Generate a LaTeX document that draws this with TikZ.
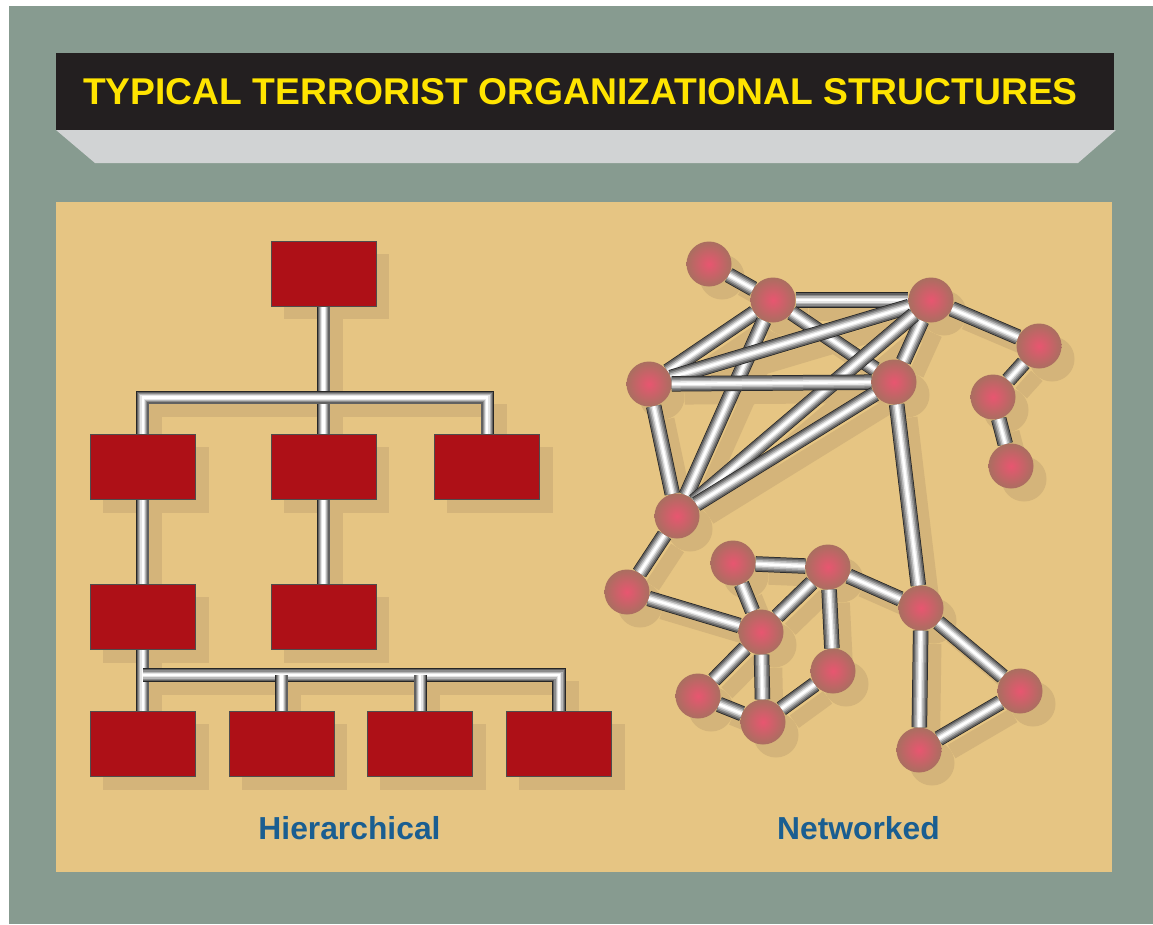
\documentclass[tikz,border=0pt]{standalone}
\usepackage{fontspec}
\setmainfont{Liberation Sans}
\usepackage{tikz}
\usetikzlibrary{positioning}
\definecolor{bggreen}{RGB}{135,155,144}
\definecolor{paneltan}{RGB}{230,197,131}
\definecolor{shadowtan}{RGB}{212,180,122}
\definecolor{boxred}{RGB}{174,16,23}
\definecolor{titleblack}{RGB}{35,31,32}
\definecolor{titleyellow}{RGB}{255,228,0}
\definecolor{ledgegrey}{RGB}{209,211,212}
\definecolor{labelblue}{RGB}{26,94,145}
\definecolor{ballpink}{RGB}{232,86,112}
\definecolor{ballrim}{RGB}{170,110,96}
\pgfdeclarelayer{back}
\pgfdeclarelayer{shade}
\pgfdeclarelayer{pipes}
\pgfsetlayers{back,shade,pipes,main}
% lists used twice (shadows and pipes)
\newcommand\treeboxes{top,a1,a2,a3,b1,b2,c1,c2,c3,c4}
\newcommand\cells{A,B,C,D,E,F,G,H,I,J,K,L,M,N,O,P,Q,R,S}
\newcommand\links{A/B,B/C,B/E,B/F,B/I,C/E,C/F,C/I,C/D,E/F,E/I,F/I,F/M,D/G,G/H,I/J,J/N,K/L,K/N,L/N,L/O,L/M,N/P,N/Q,P/Q,Q/O,M/S,M/R,R/S}
\newcommand\treelinks[1]{%
  \draw[#1] (top) -- (a2);
  \draw[#1] (a1) -- (a1 |- bar1) -- (a3 |- bar1) -- (a3);
  \draw[#1] (a1) -- (b1);
  \draw[#1] (a2) -- (b2);
  \draw[#1] (b1) -- (c1);
  \draw[#1] (b1 |- bar2) -- (c4 |- bar2) -- (c4);
  \draw[#1] (c2 |- bar2) -- (c2);
  \draw[#1] (c3 |- bar2) -- (c3);}

\begin{document}
\begin{tikzpicture}[x=1pt, y=-1pt,
    unit/.style={rectangle, draw=titleblack!80, line width=0.8pt, fill=boxred, minimum width=105pt, minimum height=65pt, inner sep=0pt},
    cell/.style={circle, minimum size=45pt, inner sep=0pt, shading=radial, inner color=ballpink, outer color=ballrim},
    tpipe/.style={line width=13.5pt, draw=black!85, line join=miter,
      postaction={draw=black!62, line width=12pt},
      postaction={draw=black!45, line width=9.5pt},
      postaction={draw=black!28, line width=7pt},
      postaction={draw=black!10, line width=4.5pt},
      postaction={draw=white, line width=2.2pt}},
    npipe/.style={line width=15.5pt, draw=black!85,
      postaction={draw=black!62, line width=14pt},
      postaction={draw=black!45, line width=11pt},
      postaction={draw=black!28, line width=8pt},
      postaction={draw=black!10, line width=5pt},
      postaction={draw=white, line width=2.4pt}},
    tshadow/.style={line width=13.5pt, draw=shadowtan, line join=miter},
    nshadow/.style={line width=15.5pt, draw=shadowtan},
    caption/.style={anchor=base, font=\bfseries\fontsize{31.8}{34}\selectfont, text=labelblue}]

  % backgrounds
  \begin{pgfonlayer}{back}
    \fill[white] (0,0) rectangle (1153,924);
    \fill[bggreen] (9,6) rectangle (1153,924);
    \fill[ledgegrey] (56,130) -- (1116,130) -- (1078,163) -- (95,163) -- cycle;
    \fill[titleblack] (56,53) rectangle (1114,130);
    \fill[paneltan] (56,202) rectangle (1112,872);
  \end{pgfonlayer}
  \node (title) [anchor=base, text=titleyellow, font=\bfseries\fontsize{37.25}{40}\selectfont] at (580.5,104) {TYPICAL TERRORIST ORGANIZATIONAL STRUCTURES};

  % hierarchical
  \node (top) [unit] at (323.5,273.5) {};
  \node (a2) [unit, below=128pt of top] {};
  \node (a1) [unit, left=75pt of a2] {};
  \node (a3) [unit, right=58pt of a2] {};
  \node (b1) [unit, below=84pt of a1] {};
  \node (b2) [unit, below=84pt of a2] {};
  \node (c1) [unit, below=61pt of b1] {};
  \node (c2) [unit, right=33pt of c1] {};
  \node (c3) [unit, right=33pt of c2] {};
  \node (c4) [unit, right=33pt of c3] {};
  \coordinate (bar1) at (0,397.5);
  \coordinate (bar2) at (0,675);

  % networked
  \node (A) [cell] at (709,264) {};
  \node (B) [cell] at (773,300) {};
  \node (C) [cell] at (931,300) {};
  \node (D) [cell] at (1039,346) {};
  \node (E) [cell] at (649,384) {};
  \node (F) [cell] at (894,382) {};
  \node (G) [cell] at (993,397) {};
  \node (H) [cell] at (1011,466) {};
  \node (I) [cell] at (677,516) {};
  \node (J) [cell] at (627,592) {};
  \node (K) [cell] at (733,563) {};
  \node (L) [cell] at (828,567) {};
  \node (M) [cell] at (921,608) {};
  \node (N) [cell] at (761,632) {};
  \node (O) [cell] at (833,671) {};
  \node (P) [cell] at (698,696) {};
  \node (Q) [cell] at (763,722) {};
  \node (R) [cell] at (1020,691) {};
  \node (S) [cell] at (919,750) {};

  % shadows
  \begin{pgfonlayer}{shade}
    \begin{scope}[transform canvas={shift={(13pt,-13pt)}}]
      \foreach \n in \treeboxes
        \fill[shadowtan] (\n.south west) rectangle (\n.north east);
      \treelinks{tshadow}
      \foreach \a/\b in \links
        \draw[nshadow] (\a) -- (\b);
      \foreach \n in \cells
        \fill[shadowtan] (\n) circle (22.5pt);
    \end{scope}
  \end{pgfonlayer}

  % pipes
  \begin{pgfonlayer}{pipes}
    \treelinks{tpipe}
    \foreach \a/\b in \links
      \draw[npipe] (\a) -- (\b);
  \end{pgfonlayer}

  \node (hier) [caption] at (349.5,839) {Hierarchical};
  \node (net) [caption] at (858.5,839) {Networked};
\end{tikzpicture}
\end{document}
